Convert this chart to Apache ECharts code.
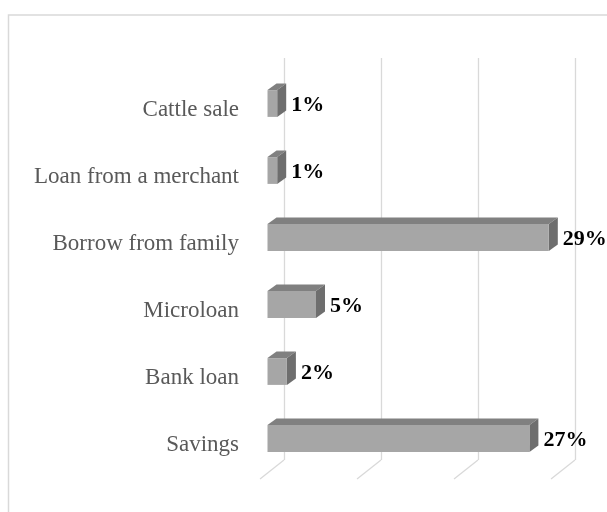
<!DOCTYPE html>
<html>
<head>
<meta charset="utf-8">
<style>
  html, body { margin: 0; padding: 0; background: #ffffff; }
  #chart { width: 607px; height: 512px; }
</style>
<script src="https://cdn.jsdelivr.net/npm/echarts@6/dist/echarts.min.js"></script>
</head>
<body>
<div id="chart"></div>
<script>
// Sources of funding, share of respondents (%), listed bottom to top
const categories = ['Savings', 'Bank loan', 'Microloan', 'Borrow from family', 'Loan from a merchant', 'Cattle sale'];
const shares = [27, 2, 5, 29, 1, 1];
const axisTicks = [0, 10, 20, 30];

// Oblique 3-D look: the grid is the back wall, bars sit in front of it
const FRONT_SHIFT = [-16.5, 12];   // back wall -> bar front face
const DEPTH = [9, -6.5];           // bar front face -> bar back face
const FLOOR = [-24, 19];           // back wall bottom -> floor front edge
const FONT = '"Liberation Serif", "DejaVu Serif", serif';

const chart = echarts.init(document.getElementById('chart'), null, { renderer: 'canvas' });

const barData = shares.map((v, i) => [v, i]);
const tickData = axisTicks.map(t => [t, 0]);

chart.setOption({
  animation: false,
  backgroundColor: '#ffffff',
  graphic: [{
    type: 'rect',
    shape: { x: 8.5, y: 15, width: 700, height: 600 },
    style: { fill: 'none', stroke: '#d9d9d9', lineWidth: 1.5 },
    silent: true
  }],
  grid: { left: 284, right: 32, top: 58, bottom: 52 },
  xAxis: {
    type: 'value',
    min: 0, max: 30, interval: 10,
    axisLine: { show: false },
    axisTick: { show: false },
    axisLabel: { show: false },
    splitLine: { show: true, lineStyle: { color: '#d9d9d9', width: 1.3 } }
  },
  yAxis: {
    type: 'category',
    data: categories,
    axisLine: { show: false },
    axisTick: { show: false },
    splitLine: { show: false },
    axisLabel: {
      margin: 45,
      // category names sit on the floor's front edge, below the wall band centre
      formatter: name => '{c|' + name + '}',
      rich: {
        c: {
          padding: [36, 0, 0, 0],
          color: '#595959',
          fontFamily: FONT,
          fontSize: 23
        }
      }
    }
  },
  series: [
    {
      // floor edges continuing the wall gridlines toward the viewer
      type: 'custom',
      silent: true,
      data: tickData,
      encode: { x: 0, y: 1 },
      renderItem(params, api) {
        const p = api.coord([api.value(0), 0]);
        const band = api.size([0, 1])[1];
        const y = p[1] + band / 2;
        return {
          type: 'line',
          shape: { x1: p[0], y1: y, x2: p[0] + FLOOR[0], y2: y + FLOOR[1] },
          style: { stroke: '#d9d9d9', lineWidth: 1.3 }
        };
      }
    },
    {
      type: 'custom',
      data: barData,
      encode: { x: 0, y: 1 },
      renderItem(params, api) {
        const v = api.value(0);
        const cat = api.value(1);
        const start = api.coord([0, cat]);
        const end = api.coord([v, cat]);
        const band = api.size([0, 1])[1];
        const h = band * 0.4;
        const x0 = start[0] + FRONT_SHIFT[0];
        const x1 = end[0] + FRONT_SHIFT[0];
        const cy = start[1] + FRONT_SHIFT[1];
        const y0 = cy - h / 2;
        const y1 = cy + h / 2;
        const dx = DEPTH[0], dy = DEPTH[1];
        return {
          type: 'group',
          children: [
            {
              type: 'polygon',
              shape: { points: [[x0, y0], [x1, y0], [x1 + dx, y0 + dy], [x0 + dx, y0 + dy]] },
              style: { fill: '#808080' }
            },
            {
              type: 'polygon',
              shape: { points: [[x1, y0], [x1 + dx, y0 + dy], [x1 + dx, y1 + dy], [x1, y1]] },
              style: { fill: '#6e6e6e' }
            },
            {
              type: 'rect',
              shape: { x: x0, y: y0, width: x1 - x0, height: h },
              style: { fill: '#a6a6a6' }
            },
            {
              type: 'text',
              x: x1 + dx + 5,
              y: cy + 2,
              style: {
                text: v + '%',
                fill: '#000000',
                font: 'bold 22px ' + FONT,
                verticalAlign: 'middle',
                align: 'left'
              }
            }
          ]
        };
      }
    }
  ]
});
</script>
</body>
</html>
